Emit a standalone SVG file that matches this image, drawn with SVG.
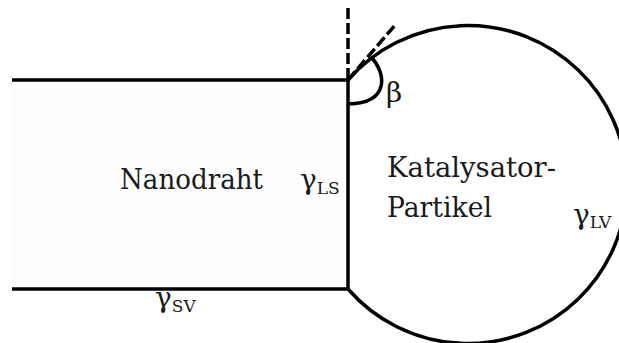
<svg xmlns="http://www.w3.org/2000/svg" width="619" height="343" viewBox="0 0 619 343">
  <style>
    .edge { fill: none; stroke: #000; stroke-width: 3.5; stroke-linecap: butt; stroke-linejoin: miter; }
    .dash { fill: none; stroke: #000; stroke-width: 3.5; stroke-dasharray: 11 4; }
    text { font-family: "DejaVu Serif", "Liberation Serif", serif; fill: #1a1a1a; }
    .big { font-size: 28px; }
    .gam { font-size: 28px; }
    .sub { font-size: 17px; }
  </style>
  <rect width="619" height="343" fill="#fff"/>

  <!-- nanowire body -->
  <g id="nanowire">
    <rect x="12" y="80" width="336" height="209" fill="#fdfdfd"/>
    <path class="edge" d="M12 80 H348 V289 H12"/>
  </g>

  <!-- catalyst droplet: arc of a circle through both wire corners -->
  <g id="particle">
    <path class="edge" d="M348 80 A159 159 0 1 1 348 289"/>
  </g>

  <!-- contact angle construction -->
  <g id="connectors">
    <path class="dash" d="M348 8 V80"/>
    <path class="dash" d="M348 80 L396 24"/>
    <path class="edge" d="M371 57 C385 71 392 103 348 104"/>
  </g>

  <g id="labels">
    <text class="big" x="120" y="189" textLength="143" lengthAdjust="spacingAndGlyphs">Nanodraht</text>
    <text class="big" x="387" y="177" textLength="169" lengthAdjust="spacingAndGlyphs">Katalysator-</text>
    <text class="big" x="387" y="217" textLength="105" lengthAdjust="spacingAndGlyphs">Partikel</text>
    <text class="gam" x="386" y="102">β</text>
    <text class="gam" x="300" y="189">γ<tspan class="sub" dy="5">LS</tspan></text>
    <text class="gam" x="573" y="224">γ<tspan class="sub" dy="4">LV</tspan></text>
    <text class="gam" x="155" y="307">γ<tspan class="sub" dy="5">SV</tspan></text>
  </g>
</svg>
